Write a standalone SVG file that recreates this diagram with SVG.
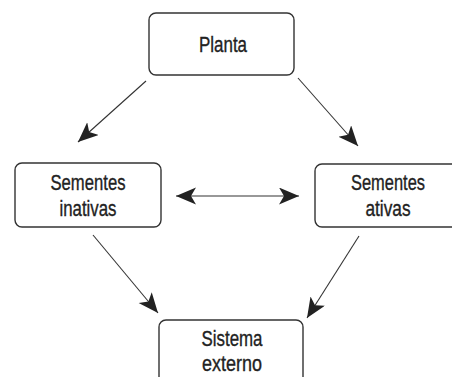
<svg xmlns="http://www.w3.org/2000/svg" width="452" height="377" viewBox="0 0 452 377">
<style>
.box{fill:#fff;stroke:#333;stroke-width:1.4}
.lbl{font-family:"Liberation Sans",Arial,sans-serif;font-size:22px;fill:#222;stroke:#222;stroke-width:0.35;text-anchor:middle}
.con{stroke:#333;stroke-width:1.1;fill:none;marker-end:url(#ah)}
</style>
<defs>
<marker id="ah" markerUnits="userSpaceOnUse" markerWidth="24" markerHeight="20" refX="20" refY="8.5" orient="auto-start-reverse">
<path d="M0,0 L20,8.5 L0,17 L5,8.5 z" fill="#222"/>
</marker>
</defs>
<rect width="452" height="377" fill="#fff"/>
<g id="planta">
<rect class="box" x="149" y="13" width="145" height="62" rx="7"/>
<text class="lbl" x="223" y="52" textLength="48" lengthAdjust="spacingAndGlyphs">Planta</text>
</g>
<g id="inativas">
<rect class="box" x="15" y="163" width="146" height="64" rx="7"/>
<text class="lbl" x="88" y="190" textLength="75" lengthAdjust="spacingAndGlyphs">Sementes</text>
<text class="lbl" x="88" y="216" textLength="57" lengthAdjust="spacingAndGlyphs">inativas</text>
</g>
<g id="ativas">
<rect class="box" x="315" y="164" width="146" height="63" rx="7"/>
<text class="lbl" x="388" y="190" textLength="74" lengthAdjust="spacingAndGlyphs">Sementes</text>
<text class="lbl" x="388" y="216" textLength="45" lengthAdjust="spacingAndGlyphs">ativas</text>
</g>
<g id="externo">
<rect class="box" x="159" y="320" width="144" height="70" rx="7"/>
<text class="lbl" x="232" y="346" textLength="61" lengthAdjust="spacingAndGlyphs">Sistema</text>
<text class="lbl" x="232" y="371" textLength="60" lengthAdjust="spacingAndGlyphs">externo</text>
</g>
<g id="connectors">
<line class="con" x1="146" y1="81" x2="78" y2="142"/>
<line class="con" x1="298" y1="78" x2="358" y2="146"/>
<line class="con" x1="176" y1="196" x2="299" y2="196" style="marker-start:url(#ah)"/>
<line class="con" x1="93" y1="235" x2="158" y2="313"/>
<line class="con" x1="359" y1="236" x2="307" y2="318"/>
</g>
</svg>
